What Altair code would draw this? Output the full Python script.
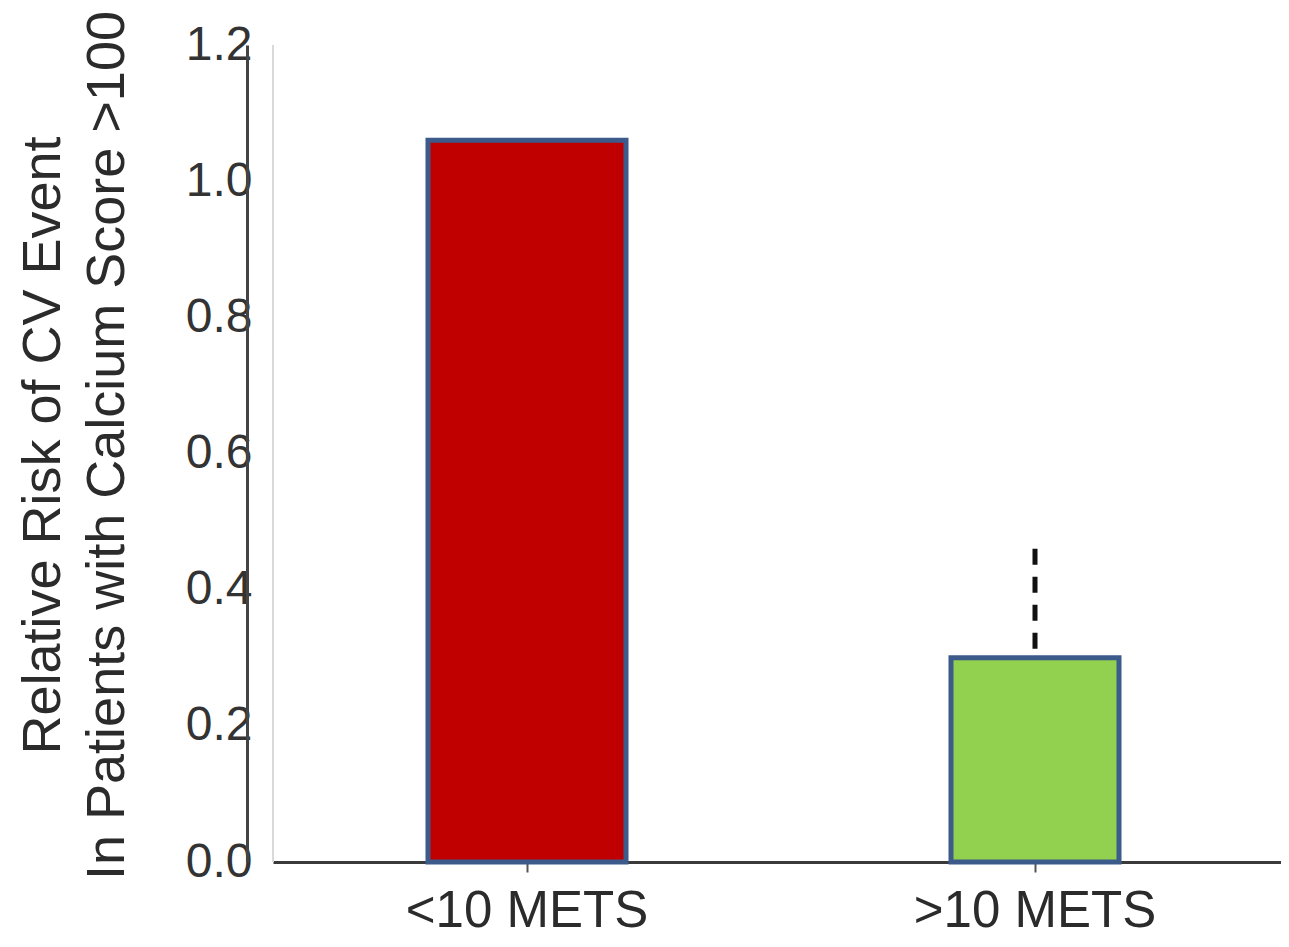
import altair as alt
import pandas as pd

categories = ["<10 METS", ">10 METS"]
relative_risk = [1.06, 0.30]
bar_colors = ["#C00000", "#92D050"]
err_category = [">10 METS"]
err_low = [0.30]
err_high = [0.46]
y_ticks = [0.0, 0.2, 0.4, 0.6, 0.8, 1.0, 1.2]
y_title = ["Relative Risk of CV Event", "In Patients with Calcium Score >100"]

bars_df = pd.DataFrame({"category": categories, "risk": relative_risk})
err_df = pd.DataFrame({"category": err_category, "lo": err_low, "hi": err_high})

FONT = "Liberation Sans"

x_enc = alt.X(
    "category:N",
    sort=categories,
    scale=alt.Scale(domain=categories, range=[0, 1016], paddingInner=0, paddingOuter=0),
    axis=alt.Axis(
        title=None,
        labelAngle=0,
        labelFont=FONT,
        labelFontSize=51,
        labelColor="#2b2b2b",
        labelPadding=14,
        labelLimit=0,
        tickSize=10,
        tickWidth=2,
        tickColor="#555555",
        domainColor="#3a3a3a",
        domainWidth=3,
    ),
)

y_scale = alt.Scale(domain=[0, 1.2], nice=False, zero=True)
y_axis = alt.Axis(
    values=y_ticks,
    format=".1f",
    title=y_title,
    titleFont=FONT,
    titleFontSize=54,
    titleFontWeight="normal",
    titleColor="#2b2b2b",
    titleLineHeight=64,
    titleAngle=270,
    titleAlign="center",
    titleBaseline="bottom",
    titleX=-177,
    titleY=400,
    labelFont=FONT,
    labelFontSize=48,
    labelColor="#333333",
    labelPadding=-5,
    ticks=False,
    tickSize=0,
    grid=False,
    domainColor="#444444",
    domainWidth=3,
    offset=26,
)

color_enc = alt.Color(
    "category:N",
    scale=alt.Scale(domain=categories, range=bar_colors),
    legend=None,
)

base = alt.Chart(bars_df)

left_line = base.mark_rule(color="#d9d9d9", strokeWidth=2).encode(
    x=alt.value(0),
    y=alt.datum(1.2, scale=y_scale),
    y2=alt.datum(0),
)

bar_red = (
    base.transform_filter(alt.datum.category == categories[0])
    .mark_bar(stroke="#3C5A8A", strokeWidth=5, width=198)
    .encode(x=x_enc, y=alt.Y("risk:Q", scale=y_scale, axis=y_axis), color=color_enc)
)

bar_green = (
    base.transform_filter(alt.datum.category == categories[1])
    .mark_bar(stroke="#3C5A8A", strokeWidth=5, width=168)
    .encode(x=x_enc, y=alt.Y("risk:Q", scale=y_scale, axis=y_axis), color=color_enc)
)

# dashed error bar drawn from its top end downwards, like the reference
err = (
    alt.Chart(err_df)
    .mark_rule(color="#111111", strokeWidth=5, strokeDash=[16, 12])
    .encode(x=x_enc, y=alt.Y("hi:Q", scale=y_scale, axis=y_axis), y2="lo:Q")
)

chart = (
    alt.layer(left_line, bar_red, bar_green, err)
    .properties(
        width=1008,
        height=817,
        autosize=alt.AutoSizeParams(type="none"),
        padding={"left": 265, "top": 37, "right": 0, "bottom": 75},
        background="white",
    )
    .configure_view(strokeWidth=0)
)

chart.save("out.html", embed_options={"renderer": "svg", "actions": False})
